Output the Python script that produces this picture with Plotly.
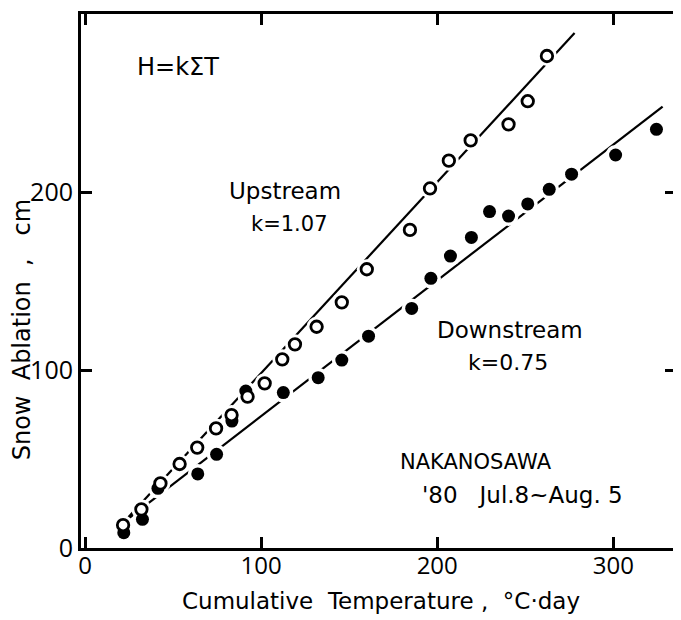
import plotly.graph_objects as go

# ---- data ----
up_x = [21.6, 32, 42.8, 53.7, 63.7, 74.4, 83.2, 92.3, 102, 112, 119.2, 131.5,
        145.8, 160, 184.5, 195.9, 206.6, 219, 240.5, 251.4, 262.3]
up_y = [12.9, 21.7, 36.3, 47.2, 56.4, 67.2, 74.7, 85, 92.5, 106, 114.4, 124.3,
        138, 156.6, 178.7, 202, 217.6, 229, 238, 251, 276.4]

down_x = [22, 32.6, 41.4, 64, 74.7, 83.4, 91.3, 112.6, 132.4, 145.8, 161,
          185.5, 196.4, 207.5, 219.4, 229.7, 240.5, 251.4, 263.6, 276.3, 301.3, 324.5]
down_y = [8.6, 16.1, 33.5, 41.6, 52.6, 71.3, 88.2, 87.3, 95.7, 105.6, 119,
          134.6, 151.5, 164, 174.5, 189, 186.5, 193.3, 201.5, 210, 220.8, 235.2]

up_fit_x = [20, 278]
up_fit_y = [12.4, 289.3]
down_fit_x = [20, 328]
down_fit_y = [13, 248]

x_ticks = [100, 200, 300]
y_ticks = [0, 100, 200]

FONT = "DejaVu Sans"
TICKFONT = "Open Sans"

fig = go.Figure()

# fit lines
fig.add_trace(go.Scatter(x=up_fit_x, y=up_fit_y, mode="lines",
                         line=dict(color="black", width=2.2), showlegend=False))
fig.add_trace(go.Scatter(x=down_fit_x, y=down_fit_y, mode="lines",
                         line=dict(color="black", width=2.2), showlegend=False))

# white halos to break the lines around points
for xs, ys in [(up_x, up_y), (down_x, down_y)]:
    fig.add_trace(go.Scatter(x=xs, y=ys, mode="markers",
                             marker=dict(size=20, color="white", line=dict(width=0)),
                             showlegend=False, hoverinfo="skip"))

# downstream filled
fig.add_trace(go.Scatter(x=down_x, y=down_y, mode="markers",
                         marker=dict(size=13, color="black", line=dict(width=0)),
                         showlegend=False))
# upstream open
fig.add_trace(go.Scatter(x=up_x, y=up_y, mode="markers",
                         marker=dict(size=11.5, color="white", line=dict(width=2.8, color="black")),
                         showlegend=False))

OFF = 8  # page body margin
W, H = 681 - OFF, 620 - OFF
L, R, T, B = 81 - OFF, 2, 14 - OFF, 72
pw, ph = W - L - R, H - T - B


def px2paper(px, py):
    # px, py measured in the 681x620 reference
    return (px - OFF - L) / pw, (H - B - (py - OFF)) / ph


def add_text(text, px, py, size=22, angle=0):
    xp, yp = px2paper(px, py)
    fig.add_annotation(text=text, x=xp, y=yp, xref="paper", yref="paper",
                       showarrow=False, xanchor="center", yanchor="middle",
                       textangle=angle, font=dict(family=FONT, size=size, color="black"))


nb = "\u00a0"
add_text("H=kΣT", 178, 67, 24)
add_text("Upstream", 286, 191, 23)
add_text("k=1.07", 291, 224, 21)
add_text("Downstream", 512, 330, 23)
add_text("k=0.75", 510, 363, 22)
add_text("NAKANOSAWA", 478, 462, 21)
add_text("'80" + nb * 3 + "Jul.8~Aug." + nb + "5", 525, 495, 23)
add_text("Cumulative" + nb * 2 + "Temperature" + nb + "," + nb * 2 + "°C·day", 383, 601, 23)
add_text("Snow" + nb * 2 + "Ablation" + nb * 2 + "," + nb * 3 + "cm", 22, 330, 24, angle=-90)

axis_common = dict(showline=True, linewidth=3, linecolor="black", mirror="ticks",
                   ticks="inside", ticklen=11, tickwidth=2.5, tickcolor="black",
                   showgrid=False, zeroline=False)

fig.update_xaxes(range=[-2.3, 335.6], tickvals=[0] + x_ticks,
                 ticktext=["0"] + [str(v) for v in x_ticks],
                 tickfont=dict(family=TICKFONT, size=24, color="black"),
                 ticklabelstandoff=-6, **axis_common)
fig.update_yaxes(range=[0, 300], tickvals=y_ticks,
                 ticktext=[str(v) for v in y_ticks],
                 tickfont=dict(family=TICKFONT, size=25, color="black"),
                 **axis_common)

fig.update_layout(width=W, height=H, margin=dict(l=L, r=R, t=T, b=B),
                  paper_bgcolor="white", plot_bgcolor="white",
                  font=dict(family=FONT, color="black"))

fig.write_html("out.html")
